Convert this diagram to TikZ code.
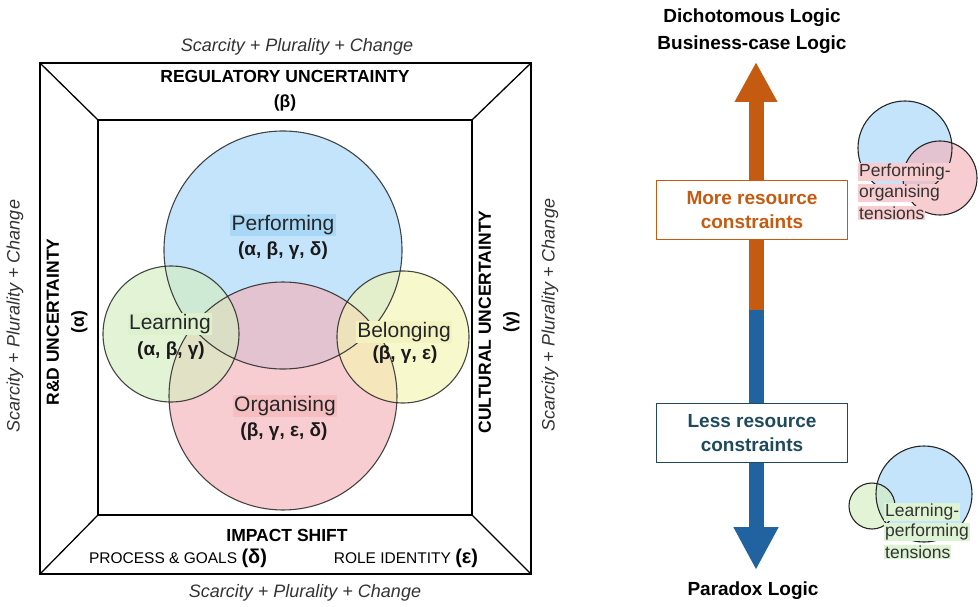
\documentclass[tikz,border=0pt]{standalone}
\usepackage{fontspec}
\setmainfont{Liberation Sans}
\usetikzlibrary{arrows.meta,positioning}
\definecolor{perfblue}{HTML}{A3D6F8}
\definecolor{orgpink}{HTML}{F5B2B8}
\definecolor{learngreen}{HTML}{D4EDC0}
\definecolor{belyellow}{HTML}{F4F4B2}
\definecolor{perfhl}{HTML}{A9D7F6}
\definecolor{orghl}{HTML}{F5BFC2}
\definecolor{learnhl}{HTML}{DDF1CF}
\definecolor{belhl}{HTML}{F3F3C2}
\definecolor{tenspink}{HTML}{F8CDD0}
\definecolor{tensgreen}{HTML}{DDF3D4}
\definecolor{uporange}{HTML}{C55A11}
\definecolor{downblue}{HTML}{2163A1}
\definecolor{lessteal}{HTML}{1F4A5C}
\tikzset{
  venn/.style={draw=black!85, line width=1.1pt, fill opacity=0.65},
  frame/.style={draw=black, line width=1.6pt},
  bandtext/.style={font=\bfseries\fontsize{17.5}{25}\selectfont, align=center, inner sep=0pt},
  spc/.style={font=\itshape\fontsize{18}{20}\selectfont, text=black!80, inner sep=0pt},
  setname/.style={font=\fontsize{21}{24}\selectfont, text=black!85, inner sep=1.5pt},
  setcode/.style={font=\bfseries\fontsize{19}{22}\selectfont, text=black!90, inner sep=0pt},
  logic/.style={font=\bfseries\fontsize{19}{27}\selectfont, align=center, inner sep=0pt},
  rcbox/.style={draw, line width=0.8pt, fill=white, minimum width=191pt,
    minimum height=59pt, align=center, font=\bfseries\fontsize{19}{24}\selectfont},
  tenslbl/.style={font=\fontsize{17.5}{20}\selectfont, text=black!80, inner sep=1pt, anchor=west},
  bigarrow/.style={line width=15pt}
}

\begin{document}
\begin{tikzpicture}[x=1pt,y=-1pt]
    \useasboundingbox (0,0) rectangle (980,607);
    % frame corners
    \coordinate (oTL) at (40,63);   \coordinate (oTR) at (531,63);
    \coordinate (oBL) at (40,574);  \coordinate (oBR) at (531,574);
    \coordinate (iTL) at (98,120);  \coordinate (iTR) at (472,120);
    \coordinate (iBL) at (98,515);  \coordinate (iBR) at (472,515);
    % venn circles
    \coordinate (cPerf) at (283,250);
    \coordinate (cOrg) at (283,396);
    \coordinate (cLearn) at (171,334);
    \coordinate (cBel) at (403,337);
    \fill[venn, draw=none, fill=perfblue] (cPerf) circle (119pt);
    \fill[venn, draw=none, fill=orgpink] (cOrg) circle (114pt);
    \fill[venn, draw=none, fill=learngreen] (cLearn) circle (68pt);
    \fill[venn, draw=none, fill=belyellow] (cBel) circle (66pt);
    \foreach \c/\r in {cPerf/119, cOrg/114, cLearn/68, cBel/66}
       \draw[venn, draw opacity=0.85] (\c) circle (\r pt);
    % frame
    \draw[frame] (oTL) rectangle (oBR);
    \draw[frame, line width=1.3pt] (iTL) rectangle (iBR);
    \foreach \a/\b in {oTL/iTL, oTR/iTR, oBL/iBL, oBR/iBR}
       \draw[line width=1.3pt] (\a) -- (\b);
    % band labels
    \node[bandtext] (reg) at (285,90.5) {REGULATORY UNCERTAINTY\\(β)};
    \node[bandtext, rotate=90] (rnd) at (67,322) {R\&D UNCERTAINTY\\(α)};
    \node[bandtext, rotate=90] (cult) at (499,322) {CULTURAL UNCERTAINTY\\(γ)};
    \node[bandtext] (impact) at (287,535) {IMPACT SHIFT};
    \node[inner sep=0pt, font=\fontsize{15.5}{18}\selectfont] (proc) at (178,558)
       {PROCESS \& GOALS {\bfseries\fontsize{20}{20}\selectfont(δ)}};
    \node[inner sep=0pt, font=\fontsize{15.5}{18}\selectfont] (role) at (406,558)
       {ROLE IDENTITY {\bfseries\fontsize{20}{20}\selectfont(ε)}};
    \node[spc] (spcT) at (297,47) {Scarcity + Plurality + Change};
    \node[spc] (spcB) at (305,593) {Scarcity + Plurality + Change};
    \node[spc, rotate=90] (spcL) at (15,316) {Scarcity + Plurality + Change};
    \node[spc, rotate=90] (spcR) at (550,315) {Scarcity + Plurality + Change};
    % set labels
    \node[setname, fill=perfhl] (perf) at (283,225) {Performing};
    \node[setcode] (perfc) at (283,251) {(α, β, γ, δ)};
    \node[setname, fill=learnhl] (learn) at (170,324) {Learning};
    \node[setcode] (learnc) at (171,351) {(α, β, γ)};
    \node[setname, fill=belhl] (bel) at (404,332) {Belonging};
    \node[setcode] (belc) at (405,355) {(β, γ, ε)};
    \node[setname, fill=orghl] (org) at (285,406) {Organising};
    \node[setcode] (orgc) at (284,432) {(β, γ, ε, δ)};
    % logic axis
    \node[logic] (dich) at (752,31.5) {Dichotomous Logic\\Business-case Logic};
    \node[logic] (para) at (753,591) {Paradox Logic};
    \coordinate (mid) at (756,310);
    \coordinate (toptip) at (756,62);
    \coordinate (bottip) at (756,570);
    \draw[bigarrow, draw=uporange, -{Triangle[length=40pt 0 0, width=40pt 0 0]}] (mid) -- (toptip);
    \draw[bigarrow, draw=downblue, -{Triangle[length=43pt 0 0, width=42pt 0 0]}] (mid) -- (bottip);
    \node[rcbox, draw=uporange, text=uporange] (more) at (752,210) {More resource\\constraints};
    \node[rcbox, draw=lessteal, text=lessteal] (less) at (752,433) {Less resource\\constraints};
    % tension bubbles
    \fill[venn, draw=none, fill=perfblue] (905,148) circle (47pt);
    \fill[venn, draw=none, fill=orgpink] (940,178) circle (37pt);
    \draw[venn] (905,148) circle (47pt);
    \draw[venn] (940,178) circle (37pt);
    \node[tenslbl, fill=tenspink] (po1) at (858,172) {Performing-};
    \node[tenslbl, fill=tenspink] (po2) at (858,193) {organising};
    \node[tenslbl, fill=tenspink] (po3) at (858,213) {tensions};
    \fill[venn, draw=none, fill=perfblue] (924,494) circle (48pt);
    \fill[venn, draw=none, fill=learngreen] (872,506) circle (23pt);
    \draw[venn] (924,494) circle (48pt);
    \draw[venn] (872,506) circle (23pt);
    \node[tenslbl, fill=tensgreen] (lp1) at (884,512) {Learning-};
    \node[tenslbl, fill=tensgreen] (lp2) at (884,532) {performing};
    \node[tenslbl, fill=tensgreen] (lp3) at (884,552) {tensions};
\end{tikzpicture}
\end{document}
